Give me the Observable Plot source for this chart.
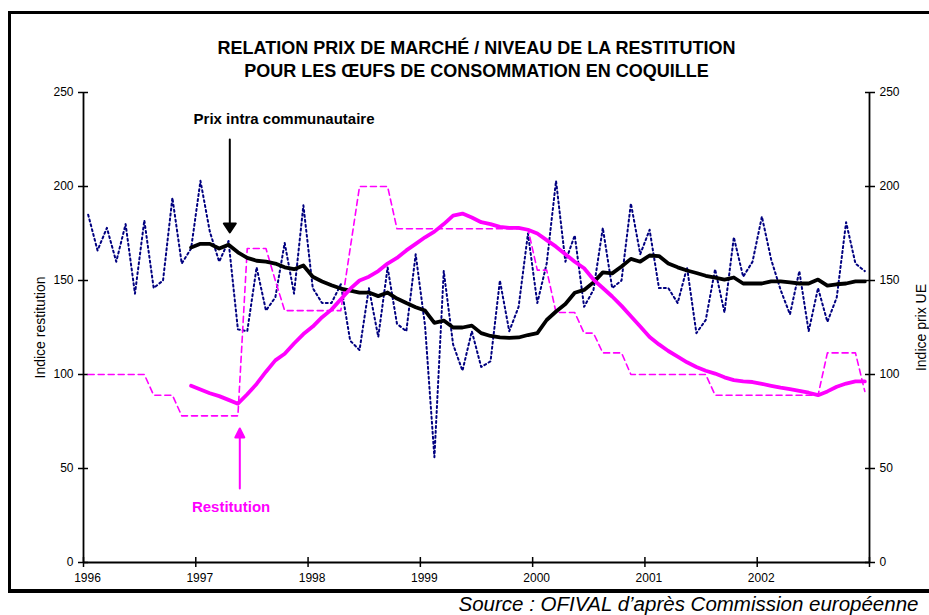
<!DOCTYPE html>
<html><head><meta charset="utf-8">
<script src="https://cdn.jsdelivr.net/npm/d3@7"></script>
<script src="https://cdn.jsdelivr.net/npm/@observablehq/plot@0.6"></script>
<style>
body{margin:0;background:#fff;}
#wrap{position:relative;width:929px;height:615px;overflow:hidden;}
#border{position:absolute;left:8px;top:11px;width:940px;height:575px;border-left:3px solid #000;border-top:3px solid #000;border-bottom:4px solid #000;pointer-events:none;}
</style></head><body>
<div id="wrap"><div id="border"></div></div>
<script>
// Tick values / labels
const years = [1996, 1997, 1998, 1999, 2000, 2001, 2002, 2003];
const yearLabels = ["1996", "1997", "1998", "1999", "2000", "2001", "2002", ""];
const yTicks = [0, 50, 100, 150, 200, 250];
const xDomain = [1996, 2003];
const yDomain = [0, 250];

// Monthly UE price index, Jan 1996 - Dec 2002
const prixUE = [
  185,166,178,160,180,143,182,146,150,194,159,167,
  203,176,160,171,124,123,157,134,141,170,143,190,
  146,138,138,148,118,113,146,120,157,127,123,164,
  126,56,155,116,102,123,104,107,150,123,136,175,
  138,159,203,160,174,136,145,178,146,150,191,164,
  177,146,146,138,157,122,129,156,133,173,152,160,
  184,161,145,132,155,123,146,128,141,181,159,155
];
// 12-month average of the intra-community price, Dec 1996 - Dec 2002
const prixMoyen = [
  167.5,
  169.5,169.5,167,169,165,162,160.5,160,159,157,156,158,
  152,149.5,147.5,145.7,144.6,143.6,143.6,141.7,143.6,140.4,138,135.8,
  134,127.5,128.7,125,125,126,122,120.5,119.7,119.5,119.7,121,
  122,129,133.5,137.5,143.5,145,149,154.3,153.8,157.5,161.5,160,
  163.3,163,159,157,155.3,154,152.5,151.5,150.5,151.6,148.4,148.4,
  148.4,149.5,149.5,149,148.4,148.4,150.5,147.3,148,148.4,149.5,149.5
];
// Smoothed restitution index, Dec 1996 - Dec 2002
const restitutionLissee = [
  94,
  92,90,88.5,86.5,84.5,89.5,95,101.5,107.5,111,116.5,121.5,
  125.5,130.5,134.5,140,145.5,150,152,155,159,162,166,169.5,
  173,176,180,184.5,185.6,183.5,181,180,178.5,178,178,177,
  175,171.5,168,164,160,156.5,150.5,146,141.5,136.5,131,125.5,
  120,116,112.5,109.5,106.5,104,102,100.5,98.5,97,96.3,96,
  95,94,93,92.2,91.3,90.3,89,91,93.5,95.2,96.3,96.3
];
// Restitution level index, Jan 1996 - Dec 2002
const restitution = [
  100,100,100,100,100,100,100,89,89,89,78,78,
  78,78,78,78,78,167,167,167,150,134,134,134,
  134,134,134,134,167,200,200,200,200,177.5,177.5,177.5,
  177.5,177.5,177.5,177.5,177.5,177.5,177.5,177.5,177.5,177.5,177.5,177.5,
  155.5,155.5,133,133,133,122,122,111.5,111.5,111.5,100,100,
  100,100,100,100,100,100,100,89,89,89,89,89,
  89,89,89,89,89,89,89,111.5,111.5,111.5,111.5,91
];

const monthPos = i => xDomain[0] + (i + 0.5) / 12;
const startAvg = restitution.length - prixMoyen.length;
const rowsUE = prixUE.map((v, i) => ({x: monthPos(i), v}));
const rowsRest = restitution.map((v, i) => ({x: monthPos(i), v}));
const rowsMoy = prixMoyen.map((v, i) => ({x: monthPos(i + startAvg), v}));
const rowsRestL = restitutionLissee.map((v, i) => ({x: monthPos(i + startAvg), v}));

const MAGENTA = "#ff00ff";
const arrowShape = (w, h) => ({
  draw(ctx, l) {
    ctx.moveTo(0, 0); ctx.lineTo(0, -l + h);
    ctx.moveTo(-w, -l + h); ctx.lineTo(0, -l); ctx.lineTo(w, -l + h); ctx.closePath();
  }
});

const chart = Plot.plot({
  width: 929,
  height: 615,
  marginLeft: 83,
  marginRight: 60,
  marginTop: 92,
  marginBottom: 53,
  style: {fontFamily: "'Liberation Sans', Arial, sans-serif", fontSize: "12px", background: "transparent", color: "#000"},
  x: {domain: xDomain},
  y: {domain: yDomain},
  marks: [
    // axes lines
    Plot.ruleX(xDomain, {y1: yDomain[0], y2: yDomain[1], strokeWidth: 1.8}),
    Plot.ruleY([yDomain[0]], {x1: xDomain[0], x2: xDomain[1], strokeWidth: 1.8}),
    // crossing ticks
    Plot.axisY(yTicks, {anchor: "left", tickSize: 10, dx: 5, tickFormat: () => "", label: null, strokeWidth: 1.5}),
    Plot.axisY(yTicks, {anchor: "right", tickSize: 10, dx: -5, tickFormat: () => "", label: null, strokeWidth: 1.5}),
    Plot.axisX(years, {anchor: "bottom", tickSize: 10, dy: -5, tickFormat: () => "", label: null, strokeWidth: 1.5}),
    // tick labels
    Plot.axisY(yTicks, {anchor: "left", tickSize: 0, tickPadding: 10, label: null, fontSize: 12}),
    Plot.axisY(yTicks, {anchor: "right", tickSize: 0, tickPadding: 10, label: null, fontSize: 12}),
    Plot.axisX(years, {anchor: "bottom", tickSize: 0, tickPadding: 11, dx: 4, label: null, fontSize: 12,
      tickFormat: d => yearLabels[years.indexOf(d)]}),
    // axis titles
    Plot.text(["Indice restitution"], {frameAnchor: "left", dx: -43, rotate: -90, textAnchor: "middle", fontSize: 14}),
    Plot.text(["Indice prix UE"], {frameAnchor: "right", dx: 52, rotate: -90, textAnchor: "middle", fontSize: 14}),
    // series
    Plot.line(rowsUE, {x: "x", y: "v", stroke: "#000080", strokeWidth: 2, strokeDasharray: "2,3"}),
    Plot.line(rowsRest, {x: "x", y: "v", stroke: MAGENTA, strokeWidth: 1.6, strokeDasharray: "6,4"}),
    Plot.line(rowsMoy, {x: "x", y: "v", stroke: "#000", strokeWidth: 3.8}),
    Plot.line(rowsRestL, {x: "x", y: "v", stroke: MAGENTA, strokeWidth: 3.8}),
    // annotations
    Plot.text(["Prix intra communautaire"], {x: 1997.786, y: 233.4, lineAnchor: "bottom", fontWeight: "bold", fontSize: 15}),
    Plot.vector([0], {x: 1997.303, y: 225, length: 93, rotate: 180, anchor: "start", shape: arrowShape(6, 9), stroke: "#000", fill: "#000", strokeWidth: 2}),
    Plot.text(["Restitution"], {x: 1997.314, y: 26.6, lineAnchor: "bottom", fontWeight: "bold", fontSize: 15, fill: MAGENTA}),
    Plot.vector([0], {x: 1997.392, y: 39.4, length: 60, rotate: 0, anchor: "start", shape: arrowShape(4.5, 9), stroke: MAGENTA, fill: MAGENTA, strokeWidth: 2}),
    // title
    Plot.text(["RELATION PRIX DE MARCHÉ / NIVEAU DE LA RESTITUTION"], {frameAnchor: "top", dy: -38.5, lineAnchor: "bottom", fontWeight: "bold", fontSize: 18}),
    Plot.text(["POUR LES ŒUFS DE CONSOMMATION EN COQUILLE"], {frameAnchor: "top", dy: -15.5, lineAnchor: "bottom", fontWeight: "bold", fontSize: 18}),
    // source
    Plot.text(["Source : OFIVAL d’après Commission européenne"], {frameAnchor: "bottom-left", dx: 375, dy: 48, lineAnchor: "bottom", textAnchor: "start", fontStyle: "italic", fontSize: 20.5})
  ]
});
document.getElementById("wrap").prepend(chart);
</script>
</body></html>
